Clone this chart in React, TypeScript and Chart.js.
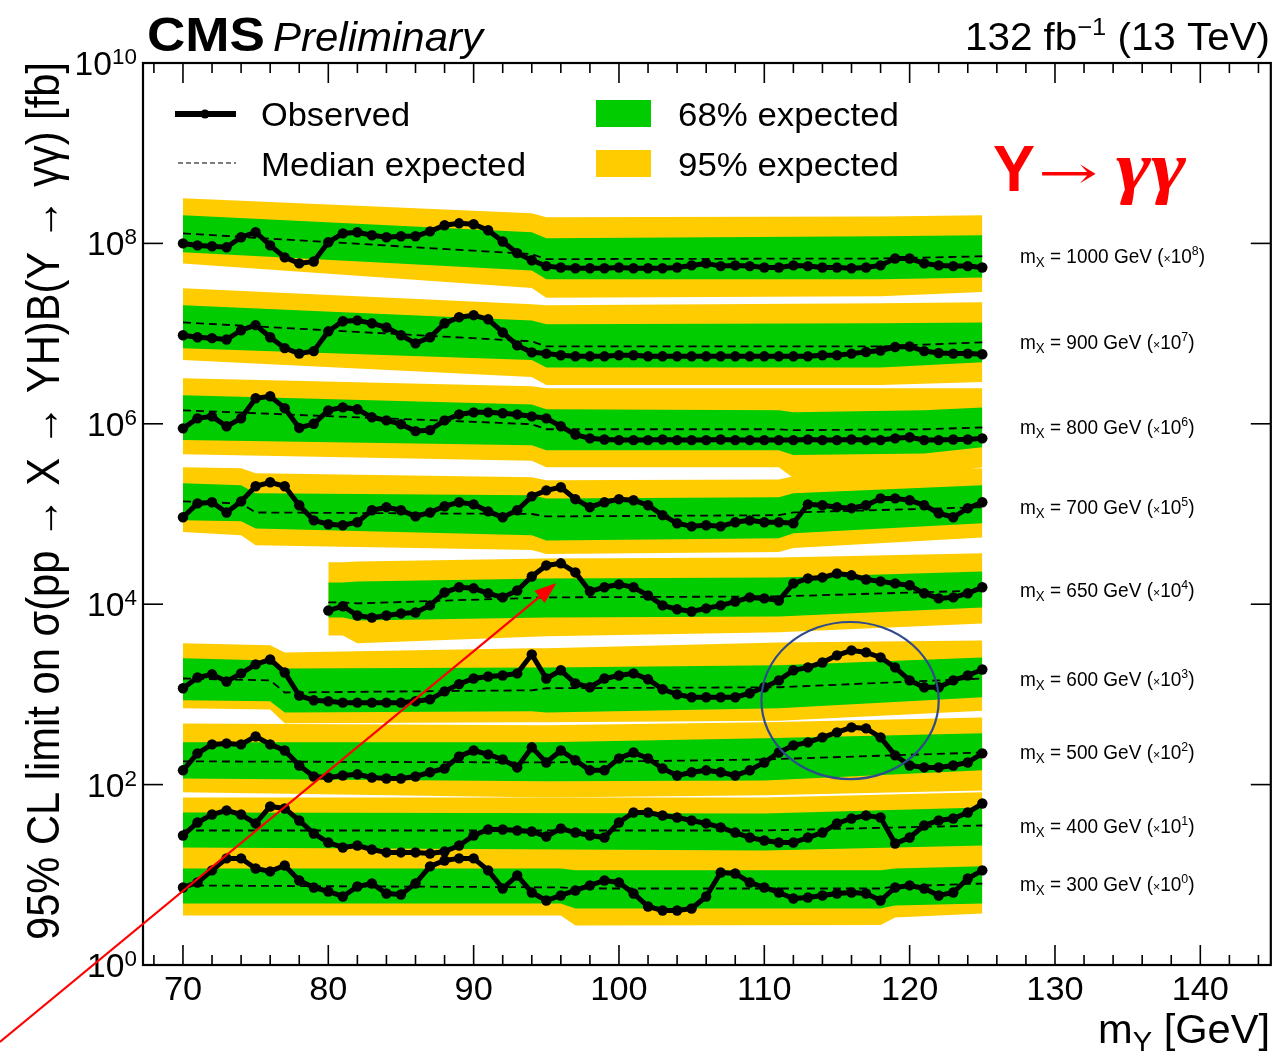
import React, { useEffect, useRef } from "react";
import { Chart, registerables } from "chart.js";

Chart.register(...registerables);

// ---------------- data ----------------
const MY = [70, 71, 72, 73, 74, 75, 76, 77, 78, 79, 80, 81, 82, 83, 84, 85, 86, 87, 88, 89, 90, 91, 92, 93, 94, 95, 96, 97, 98, 99, 100, 101, 102, 103, 104, 105, 106, 107, 108, 109, 110, 111, 112, 113, 114, 115, 116, 117, 118, 119, 120, 121, 122, 123, 124, 125];
const MY650 = [80, 81, 82, 83, 84, 85, 86, 87, 88, 89, 90, 91, 92, 93, 94, 95, 96, 97, 98, 99, 100, 101, 102, 103, 104, 105, 106, 107, 108, 109, 110, 111, 112, 113, 114, 115, 116, 117, 118, 119, 120, 121, 122, 123, 124, 125];

const MX = [1000, 900, 800, 700, 650, 600, 500, 400, 300];
const SCALE_EXP = [8, 7, 6, 5, 4, 3, 2, 1, 0];

// observed limits [fb] (before scaling)
const obs1000 = [1.00, 0.95, 0.93, 0.905, 1.17, 1.33, 0.95, 0.70, 0.60, 0.63, 1.03, 1.29, 1.33, 1.23, 1.17, 1.20, 1.20, 1.36, 1.59, 1.67, 1.63, 1.40, 1.05, 0.78, 0.65, 0.56, 0.54, 0.53, 0.53, 0.53, 0.54, 0.53, 0.53, 0.53, 0.54, 0.57, 0.60, 0.56, 0.57, 0.56, 0.54, 0.54, 0.57, 0.56, 0.54, 0.54, 0.53, 0.54, 0.57, 0.68, 0.68, 0.60, 0.57, 0.56, 0.56, 0.54];
const obs900 = [0.96, 0.91, 0.89, 0.86, 1.09, 1.24, 0.91, 0.69, 0.60, 0.64, 1.06, 1.37, 1.40, 1.30, 1.17, 0.96, 0.78, 0.91, 1.30, 1.52, 1.60, 1.44, 1.03, 0.74, 0.62, 0.60, 0.575, 0.56, 0.56, 0.56, 0.575, 0.575, 0.56, 0.56, 0.56, 0.56, 0.56, 0.56, 0.56, 0.56, 0.56, 0.56, 0.56, 0.56, 0.575, 0.575, 0.60, 0.625, 0.65, 0.71, 0.72, 0.64, 0.61, 0.60, 0.60, 0.59];
const obs800 = [0.89, 1.15, 1.21, 0.94, 1.15, 1.92, 2.02, 1.49, 0.90, 1.00, 1.41, 1.52, 1.45, 1.18, 1.09, 0.99, 0.83, 0.85, 1.09, 1.27, 1.34, 1.34, 1.31, 1.27, 1.21, 1.15, 0.94, 0.76, 0.69, 0.67, 0.66, 0.66, 0.66, 0.67, 0.66, 0.66, 0.66, 0.67, 0.66, 0.66, 0.66, 0.66, 0.66, 0.67, 0.66, 0.66, 0.67, 0.66, 0.66, 0.69, 0.71, 0.66, 0.66, 0.67, 0.67, 0.69];
const obs700 = [0.92, 1.31, 1.35, 1.04, 1.38, 2.03, 2.25, 2.03, 1.25, 0.85, 0.77, 0.75, 0.81, 1.10, 1.19, 1.10, 0.94, 1.04, 1.22, 1.35, 1.28, 1.07, 0.92, 1.10, 1.57, 1.83, 1.98, 1.46, 1.19, 1.35, 1.46, 1.42, 1.25, 0.97, 0.79, 0.73, 0.75, 0.73, 0.81, 0.85, 0.81, 0.81, 0.79, 1.28, 1.25, 1.19, 1.16, 1.25, 1.49, 1.49, 1.42, 1.25, 1.02, 0.92, 1.16, 1.35];
const obs650 = [0.85, 0.95, 0.75, 0.71, 0.75, 0.79, 0.81, 0.97, 1.35, 1.54, 1.50, 1.32, 1.19, 1.42, 2.03, 2.69, 2.84, 2.25, 1.39, 1.54, 1.66, 1.54, 1.25, 0.97, 0.88, 0.83, 0.90, 0.97, 1.07, 1.19, 1.16, 1.10, 1.70, 1.93, 1.98, 2.19, 2.09, 1.88, 1.79, 1.70, 1.62, 1.32, 1.16, 1.19, 1.32, 1.54];
const obs600 = [1.17, 1.54, 1.67, 1.39, 1.71, 2.15, 2.44, 1.75, 0.97, 0.86, 0.84, 0.81, 0.81, 0.81, 0.81, 0.81, 0.84, 0.88, 1.08, 1.30, 1.50, 1.58, 1.62, 1.71, 2.78, 1.50, 1.85, 1.32, 1.20, 1.50, 1.62, 1.71, 1.47, 1.14, 1.00, 0.93, 0.93, 0.93, 0.93, 1.03, 1.20, 1.43, 1.85, 1.99, 2.26, 2.71, 3.08, 2.92, 2.57, 1.99, 1.43, 1.20, 1.20, 1.43, 1.62, 1.89];
const obs500 = [1.44, 2.22, 2.79, 2.86, 2.79, 3.42, 2.79, 2.39, 1.63, 1.23, 1.20, 1.26, 1.30, 1.20, 1.17, 1.17, 1.23, 1.37, 1.51, 2.05, 2.39, 2.16, 1.90, 1.55, 2.59, 1.76, 2.39, 1.86, 1.44, 1.44, 1.95, 2.27, 1.95, 1.51, 1.26, 1.37, 1.44, 1.37, 1.26, 1.44, 1.76, 2.27, 2.72, 2.94, 3.34, 3.79, 4.31, 4.20, 3.34, 2.11, 1.63, 1.55, 1.55, 1.63, 1.76, 2.22];
const obs400 = [2.73, 3.80, 4.66, 5.17, 4.66, 3.71, 5.72, 5.44, 4.00, 2.87, 2.28, 2.01, 2.11, 1.91, 1.77, 1.77, 1.77, 1.72, 1.81, 2.11, 2.73, 3.18, 3.18, 3.10, 3.02, 2.66, 3.26, 2.94, 2.73, 2.59, 3.80, 4.91, 4.91, 4.54, 4.32, 4.00, 3.71, 3.35, 2.94, 2.59, 2.40, 2.28, 2.28, 2.59, 2.94, 3.71, 4.21, 4.54, 4.32, 2.22, 2.59, 3.52, 4.00, 4.21, 4.91, 6.17];
const obs300 = [7.23, 8.22, 11.2, 15.2, 15.2, 11.75, 10.9, 12.7, 8.65, 7.23, 6.53, 5.75, 7.42, 8.01, 6.21, 6.05, 8.01, 12.4, 14.4, 15.2, 15.2, 11.2, 7.05, 9.83, 6.37, 5.19, 5.90, 6.70, 7.62, 8.65, 8.22, 6.21, 4.45, 4.02, 4.02, 4.23, 5.75, 10.6, 10.35, 8.22, 7.23, 6.37, 5.46, 5.60, 5.90, 6.21, 6.37, 6.21, 5.19, 7.23, 7.62, 7.05, 5.90, 6.37, 9.1, 11.2];

// expected bands: knots in mY, then -2s/-1s/median/+1s/+2s edges [fb]
const bx1000 = [70, 94, 95, 118, 125];
const hi2_1000 = [3.16, 2.16, 1.95, 1.99, 2.05];
const hi1_1000 = [2.05, 1.33, 1.14, 1.20, 1.23];
const med1000 = [1.29, 0.76, 0.67, 0.68, 0.72];
const lo1_1000 = [0.80, 0.50, 0.40, 0.40, 0.42];
const lo2_1000 = [0.60, 0.32, 0.25, 0.26, 0.29];

const bx900 = [70, 94, 95, 118, 125];
const hi2_900 = [3.18, 2.11, 2.06, 2.17, 2.22];
const hi1_900 = [2.06, 1.40, 1.27, 1.30, 1.33];
const med900 = [1.33, 0.82, 0.72, 0.72, 0.80];
const lo1_900 = [0.69, 0.51, 0.42, 0.42, 0.48];
const lo2_900 = [0.51, 0.33, 0.27, 0.27, 0.29];

const bx800 = [70, 94, 95, 111, 112, 121, 125];
const hi2_800 = [3.20, 2.60, 2.48, 2.48, 2.48, 2.48, 2.48];
const hi1_800 = [2.07, 1.64, 1.45, 1.41, 1.34, 1.41, 1.52];
const med800 = [1.41, 0.99, 0.87, 0.87, 0.85, 0.87, 0.91];
const lo1_800 = [0.66, 0.58, 0.51, 0.51, 0.45, 0.47, 0.55];
const lo2_800 = [0.46, 0.39, 0.33, 0.33, 0.25, 0.26, 0.33];

const bx700 = [70, 74, 75, 94, 95, 111, 112, 125];
const hi2_700 = [3.29, 3.21, 2.83, 2.55, 2.36, 2.42, 2.62, 3.21];
const hi1_700 = [2.19, 2.08, 1.70, 1.61, 1.49, 1.53, 1.70, 2.08];
const med700 = [1.38, 1.31, 1.04, 1.00, 0.94, 0.97, 1.04, 1.19];
const lo1_700 = [0.85, 0.83, 0.69, 0.58, 0.51, 0.54, 0.61, 0.79];
const lo2_700 = [0.63, 0.58, 0.45, 0.40, 0.36, 0.38, 0.42, 0.55];

const bx650 = [80, 81, 82, 95, 111, 125];
const hi2_650 = [2.91, 2.91, 2.98, 3.22, 3.30, 3.66];
const hi1_650 = [1.74, 1.74, 1.79, 1.93, 1.98, 2.31];
const med650 = [1.05, 1.05, 1.02, 1.19, 1.22, 1.42];
const lo1_650 = [0.71, 0.71, 0.66, 0.71, 0.73, 0.92];
const lo2_650 = [0.45, 0.45, 0.37, 0.44, 0.49, 0.61];

const bx600 = [70, 76, 77, 94, 95, 111, 125];
const hi2_600 = [3.68, 3.50, 2.92, 3.24, 3.24, 3.77, 3.97];
const hi1_600 = [2.51, 2.38, 1.94, 1.99, 1.99, 2.10, 2.57];
const med600 = [1.50, 1.43, 1.05, 1.11, 1.17, 1.20, 1.50];
const lo1_600 = [0.86, 0.84, 0.63, 0.65, 0.63, 0.70, 0.93];
const lo2_600 = [0.70, 0.68, 0.48, 0.49, 0.49, 0.51, 0.66];

const bx500 = [70, 95, 110, 125];
const hi2_500 = [4.77, 4.54, 4.90, 5.56];
const hi1_500 = [2.94, 2.94, 3.26, 3.70];
const med500 = [1.81, 1.76, 1.90, 2.27];
const lo1_500 = [1.17, 1.09, 1.11, 1.44];
const lo2_500 = [0.82, 0.72, 0.76, 0.86];

const bx400 = [70, 110, 125];
const hi2_400 = [7.2, 7.2, 8.2];
const hi1_400 = [4.91, 4.78, 5.57];
const med400 = [3.10, 3.10, 3.52];
const lo1_400 = [2.01, 1.86, 2.11];
const lo2_400 = [1.30, 1.24, 1.33];

const bx300 = [70, 96, 97, 118, 119, 125];
const hi2_300 = [17.7, 17.7, 16.4, 16.4, 17.2, 18.6];
const hi1_300 = [11.75, 11.75, 11.2, 11.2, 11.75, 12.4];
const med300 = [7.62, 7.25, 7.05, 7.05, 7.42, 8.0];
const lo1_300 = [4.8, 4.8, 4.23, 4.23, 4.57, 4.8];
const lo2_300 = [3.54, 3.54, 2.74, 2.78, 3.36, 3.72];

const X_TICK_LABELS = [70, 80, 90, 100, 110, 120, 130, 140];
const Y_TICK_EXP = [0, 2, 4, 6, 8, 10];
const LEGEND_LABELS = ["Observed", "Median expected", "68% expected", "95% expected"];
const Y_TITLE = "95% CL limit on σ(pp → X → YH)B(Y → γγ) [fb]";

// annotations (data coordinates)
const ELLIPSE_X = [109.8, 122.0];
const ELLIPSE_Y = [115, 6350];
const ARROW_FROM = [57.4, 0.14];
const ARROW_TO = [95.7, 17200];

// --------------- assembly ---------------
const OBS = [obs1000, obs900, obs800, obs700, obs650, obs600, obs500, obs400, obs300];
const OBS_X = [MY, MY, MY, MY, MY650, MY, MY, MY, MY];
const BX = [bx1000, bx900, bx800, bx700, bx650, bx600, bx500, bx400, bx300];
const HI2 = [hi2_1000, hi2_900, hi2_800, hi2_700, hi2_650, hi2_600, hi2_500, hi2_400, hi2_300];
const HI1 = [hi1_1000, hi1_900, hi1_800, hi1_700, hi1_650, hi1_600, hi1_500, hi1_400, hi1_300];
const MED = [med1000, med900, med800, med700, med650, med600, med500, med400, med300];
const LO1 = [lo1_1000, lo1_900, lo1_800, lo1_700, lo1_650, lo1_600, lo1_500, lo1_400, lo1_300];
const LO2 = [lo2_1000, lo2_900, lo2_800, lo2_700, lo2_650, lo2_600, lo2_500, lo2_400, lo2_300];

const YELLOW = "#ffcc00";
const GREEN = "#00cc00";
const LS = '"Liberation Sans", Arial, Helvetica, sans-serif';
const F = (size: number, style = "") => `${style} ${size}px ${LS}`;

function pts(xs: number[], ys: number[], s: number) {
  return xs.map((x, i) => ({ x, y: ys[i] * s }));
}

function buildDatasets() {
  const ds: any[] = [];
  const hidden = { borderColor: "rgba(0,0,0,0)", borderWidth: 0, pointRadius: 0, tension: 0 };
  MX.forEach((_, i) => {
    const s = Math.pow(10, SCALE_EXP[i]);
    const base = ds.length;
    ds.push({ ...hidden, data: pts(BX[i], HI2[i], s), fill: { target: base + 1 }, backgroundColor: YELLOW, order: 40 });
    ds.push({ ...hidden, data: pts(BX[i], LO2[i], s), fill: false, order: 40 });
    ds.push({ ...hidden, data: pts(BX[i], HI1[i], s), fill: { target: base + 3 }, backgroundColor: GREEN, order: 30 });
    ds.push({ ...hidden, data: pts(BX[i], LO1[i], s), fill: false, order: 30 });
    ds.push({
      data: pts(BX[i], MED[i], s), fill: false, borderColor: "#000", borderWidth: 1.8,
      borderDash: [8, 5], pointRadius: 0, tension: 0, order: 20,
    });
    ds.push({
      data: pts(OBS_X[i], OBS[i], s), fill: false, borderColor: "#000", borderWidth: 5,
      pointRadius: 5.2, pointBackgroundColor: "#000", pointBorderWidth: 0, tension: 0, order: 10,
    });
  });
  return ds;
}

type Run = { t: string; f: string; dy?: number };

function drawRuns(
  ctx: CanvasRenderingContext2D, runs: Run[], x: number, y: number,
  o: { width?: number; sx?: number; sy?: number; align?: "left" | "right" | "center"; rot?: number; color?: string }
) {
  let raw = 0;
  const ws: number[] = [];
  for (const r of runs) { ctx.font = r.f; const w = ctx.measureText(r.t).width; ws.push(w); raw += w; }
  const sx = o.width ? o.width / raw : (o.sx ?? 1);
  const sy = o.sy ?? 1;
  const total = raw * sx;
  let cx = o.align === "right" ? -total : o.align === "center" ? -total / 2 : 0;
  ctx.save();
  ctx.translate(x, y);
  if (o.rot) ctx.rotate(o.rot);
  ctx.fillStyle = o.color ?? "#000";
  ctx.textAlign = "left";
  ctx.textBaseline = "alphabetic";
  runs.forEach((r, i) => {
    ctx.font = r.f;
    ctx.save();
    ctx.translate(cx, (r.dy ?? 0) * sy);
    ctx.scale(sx, sy);
    ctx.fillText(r.t, 0, 0);
    ctx.restore();
    cx += ws[i] * sx;
  });
  ctx.restore();
}

const decor = {
  id: "decor",
  afterDraw(chart: any) {
    const ctx: CanvasRenderingContext2D = chart.ctx;
    const xs = chart.scales.x;
    const ys = chart.scales.y;
    const { left, right, top, bottom } = chart.chartArea;
    const line = (x1: number, y1: number, x2: number, y2: number) => {
      ctx.beginPath(); ctx.moveTo(x1, y1); ctx.lineTo(x2, y2); ctx.stroke();
    };
    ctx.save();
    ctx.strokeStyle = "#000";
    ctx.setLineDash([]);
    // frame
    ctx.lineWidth = 2.2;
    ctx.strokeRect(left, top, right - left, bottom - top);
    // x ticks
    ctx.lineWidth = 1.6;
    const xmin = xs.min, xmax = xs.max;
    for (let v = Math.ceil(xmin / 2) * 2; v <= xmax; v += 2) {
      const px = xs.getPixelForValue(v);
      const len = v % 10 === 0 ? 20 : 10;
      line(px, bottom, px, bottom - len);
      line(px, top, px, top + len);
    }
    // y ticks
    for (const e of Y_TICK_EXP) {
      const py = ys.getPixelForValue(Math.pow(10, e));
      line(left, py, left + 20, py);
      line(right, py, right - 20, py);
    }
    // x tick labels
    for (const v of X_TICK_LABELS) {
      drawRuns(ctx, [{ t: String(v), f: F(33) }], xs.getPixelForValue(v), 1000, { sx: 1.04, align: "center" });
    }
    // y tick labels
    for (const e of Y_TICK_EXP) {
      const py = ys.getPixelForValue(Math.pow(10, e));
      drawRuns(ctx, [{ t: "10", f: F(33), dy: 12 }, { t: String(e), f: F(22), dy: 1 }], 137, py, { sx: 1.02, align: "right" });
    }
    // axis titles
    drawRuns(ctx, [{ t: "m", f: F(40) }, { t: "Y", f: F(28), dy: 8 }, { t: " [GeV]", f: F(40) }], 1270, 1043, { width: 172, align: "right" });
    drawRuns(ctx, [{ t: Y_TITLE, f: F(40) }], 59, 940, { width: 878, sy: 1.15, rot: -Math.PI / 2 });
    // header
    drawRuns(ctx, [{ t: "CMS", f: F(48, "bold") }], 147, 51, { width: 118 });
    drawRuns(ctx, [{ t: "Preliminary", f: F(40, "italic") }], 273, 51, { width: 210 });
    drawRuns(ctx, [{ t: "132 fb", f: F(38) }, { t: "−1", f: F(24), dy: -15 }, { t: " (13 TeV)", f: F(38) }], 1270, 50, { width: 305, align: "right" });
    // legend
    ctx.lineWidth = 6;
    line(175, 114, 236, 114);
    ctx.fillStyle = "#000";
    ctx.beginPath(); ctx.arc(205, 114, 4.5, 0, Math.PI * 2); ctx.fill();
    ctx.lineWidth = 1.2;
    ctx.setLineDash([5, 3]);
    line(178, 163, 236, 163);
    ctx.setLineDash([]);
    ctx.fillStyle = GREEN; ctx.fillRect(596, 100, 55, 27);
    ctx.fillStyle = YELLOW; ctx.fillRect(596, 150, 55, 27);
    drawRuns(ctx, [{ t: LEGEND_LABELS[0], f: F(34) }], 261, 126, { width: 149 });
    drawRuns(ctx, [{ t: LEGEND_LABELS[1], f: F(34) }], 261, 176, { width: 265 });
    drawRuns(ctx, [{ t: LEGEND_LABELS[2], f: F(34) }], 678, 126, { width: 221 });
    drawRuns(ctx, [{ t: LEGEND_LABELS[3], f: F(34) }], 678, 176, { width: 221 });
    // series labels
    MX.forEach((mx, i) => {
      const med = MED[i];
      const py = ys.getPixelForValue(med[med.length - 1] * Math.pow(10, SCALE_EXP[i]));
      drawRuns(ctx, [
        { t: "m", f: F(20) }, { t: "X", f: F(14), dy: 4 },
        { t: ` = ${mx} GeV (`, f: F(20) }, { t: "×", f: F(13) }, { t: "10", f: F(20) },
        { t: String(SCALE_EXP[i]), f: F(13), dy: -8 }, { t: ")", f: F(20) },
      ], 1020, py + 7, { sx: 0.95 });
    });
    // red process label
    drawRuns(ctx, [{ t: "Y", f: F(64, "bold") }], 993, 191, { width: 42, color: "#ff0000" });
    drawRuns(ctx, [{ t: "→", f: '44px "DejaVu Serif", serif' }], 1038, 188, { width: 60, color: "#ff0000" });
    drawRuns(ctx, [{ t: "γγ", f: 'bold italic 70px "Liberation Serif", "DejaVu Serif", serif' }], 1116, 190, { width: 70, color: "#ff0000" });
    // blue ellipse
    const ex1 = xs.getPixelForValue(ELLIPSE_X[0]), ex2 = xs.getPixelForValue(ELLIPSE_X[1]);
    const ey1 = ys.getPixelForValue(ELLIPSE_Y[1]), ey2 = ys.getPixelForValue(ELLIPSE_Y[0]);
    ctx.strokeStyle = "#2f4b8c";
    ctx.lineWidth = 2.2;
    ctx.beginPath();
    ctx.ellipse((ex1 + ex2) / 2, (ey1 + ey2) / 2, (ex2 - ex1) / 2, (ey2 - ey1) / 2, 0, 0, Math.PI * 2);
    ctx.stroke();
    // red arrow
    const ax1 = xs.getPixelForValue(ARROW_FROM[0]), ay1 = ys.getPixelForValue(ARROW_FROM[1]);
    const ax2 = xs.getPixelForValue(ARROW_TO[0]), ay2 = ys.getPixelForValue(ARROW_TO[1]);
    const ang = Math.atan2(ay2 - ay1, ax2 - ax1);
    const hl = 22, hw = 8;
    const bxp = ax2 - hl * Math.cos(ang), byp = ay2 - hl * Math.sin(ang);
    ctx.strokeStyle = "#ff0000";
    ctx.fillStyle = "#ff0000";
    ctx.lineWidth = 2.2;
    line(ax1, ay1, bxp, byp);
    ctx.beginPath();
    ctx.moveTo(ax2, ay2);
    ctx.lineTo(bxp + hw * Math.sin(ang), byp - hw * Math.cos(ang));
    ctx.lineTo(bxp - hw * Math.sin(ang), byp + hw * Math.cos(ang));
    ctx.closePath();
    ctx.fill();
    ctx.restore();
  },
};

export default function App() {
  const ref = useRef<HTMLCanvasElement>(null);
  useEffect(() => {
    const canvas = ref.current;
    if (!canvas) return;
    const chart = new Chart(canvas, {
      type: "line",
      data: { datasets: buildDatasets() },
      options: {
        responsive: false,
        animation: false,
        devicePixelRatio: 1,
        events: [],
        layout: { padding: { left: 143, top: 63, right: 3, bottom: 89 } },
        plugins: { legend: { display: false }, tooltip: { enabled: false } },
        scales: {
          x: { type: "linear", min: 67.25, max: 144.85, display: false },
          y: { type: "logarithmic", min: 1, max: 1e10, display: false },
        },
      } as any,
      plugins: [decor as any],
    });
    return () => chart.destroy();
  }, []);
  return (
    <div style={{ position: "absolute", left: 0, top: 0, width: 1276, height: 1054, background: "#fff", overflow: "hidden" }}>
      <canvas ref={ref} width={1276} height={1054} style={{ display: "block", width: 1276, height: 1054 }} />
    </div>
  );
}
